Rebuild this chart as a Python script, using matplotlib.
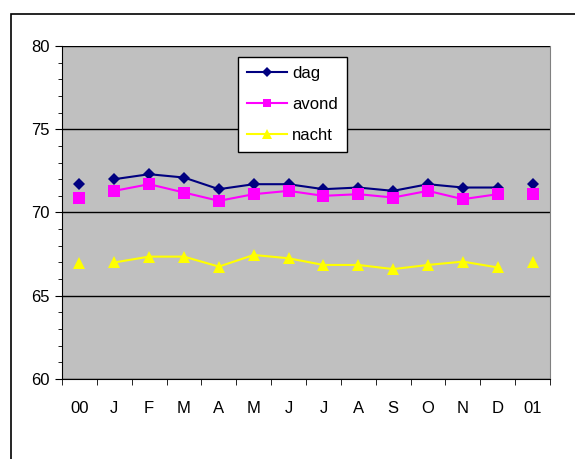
import matplotlib
matplotlib.use('Agg')
import matplotlib.pyplot as plt
from matplotlib.patches import Rectangle
from matplotlib.ticker import MultipleLocator

plt.rcParams['font.family'] = ['Liberation Sans', 'DejaVu Sans']

# category labels: 00, months, 01
labels = ['00', 'J', 'F', 'M', 'A', 'M', 'J', 'J', 'A', 'S', 'O', 'N', 'D', '01']

dag = [71.7, 72.0, 72.3, 72.1, 71.4, 71.7, 71.7, 71.4, 71.5, 71.3, 71.7, 71.5, 71.5, 71.7]
avond = [70.9, 71.3, 71.7, 71.2, 70.7, 71.1, 71.3, 71.0, 71.1, 70.9, 71.3, 70.8, 71.1, 71.1]
nacht = [66.95, 67.0, 67.35, 67.35, 66.75, 67.45, 67.25, 66.85, 66.85, 66.6, 66.85, 67.05, 66.7, 67.0]

fig = plt.figure(figsize=(5.75, 4.59), dpi=100)
fig.patch.set_facecolor('white')

# outer chart frame (only left and top edges are inside the picture)
fig.patches.append(Rectangle((11 / 575, -0.2), 1.2, 1.2 - 14 / 459,
                             transform=fig.transFigure, fill=False,
                             edgecolor='black', linewidth=1.2))

ax = fig.add_axes([62 / 575, 1 - 379 / 459, 488 / 575, 333 / 459])
ax.set_facecolor('#c0c0c0')

x = list(range(len(labels)))

series = [
    ('dag', dag, '#000080', 'D', 6),
    ('avond', avond, '#ff00ff', 's', 8),
    ('nacht', nacht, '#ffff00', '^', 9),
]

for name, vals, color, marker, ms in series:
    # months J..D are joined, 00 and 01 are single points
    ax.plot(x[1:13], vals[1:13], color=color, linewidth=1.5, marker=marker,
            markersize=ms, markeredgewidth=0, label=name, zorder=3)
    ax.plot([x[0], x[13]], [vals[0], vals[13]], linestyle='none', marker=marker,
            color=color, markersize=ms, markeredgewidth=0, zorder=3)

ax.set_xlim(-0.5, 13.5)
ax.set_ylim(60, 80)
ax.yaxis.set_major_locator(MultipleLocator(5))
ax.yaxis.set_minor_locator(MultipleLocator(1))
ax.grid(True, axis='y', which='major', color='black', linewidth=1)
ax.set_axisbelow(True)

ax.set_xticks(x)
ax.set_xticklabels(labels)
ax.set_xticks([i - 0.5 for i in range(15)], minor=True)
ax.tick_params(axis='x', which='major', length=0, pad=16, labelsize=12)
ax.tick_params(axis='x', which='minor', length=4, direction='out')
ax.tick_params(axis='y', which='major', length=5, pad=4, labelsize=12)
ax.tick_params(axis='y', which='minor', length=3)

ax.spines['top'].set_visible(False)
ax.spines['right'].set_color('#808080')
ax.spines['left'].set_color('black')
ax.spines['bottom'].set_color('black')

leg = ax.legend(loc='upper left', bbox_to_anchor=(0.361, 0.967), borderaxespad=0,
                fontsize=12, frameon=True, fancybox=False, framealpha=1,
                edgecolor='black', handlelength=2.4, handletextpad=0.3,
                labelspacing=0.95, borderpad=0.55, markerscale=0.8)
leg.get_frame().set_linewidth(1)

plt.savefig('out.png', dpi=100)
plt.close()
